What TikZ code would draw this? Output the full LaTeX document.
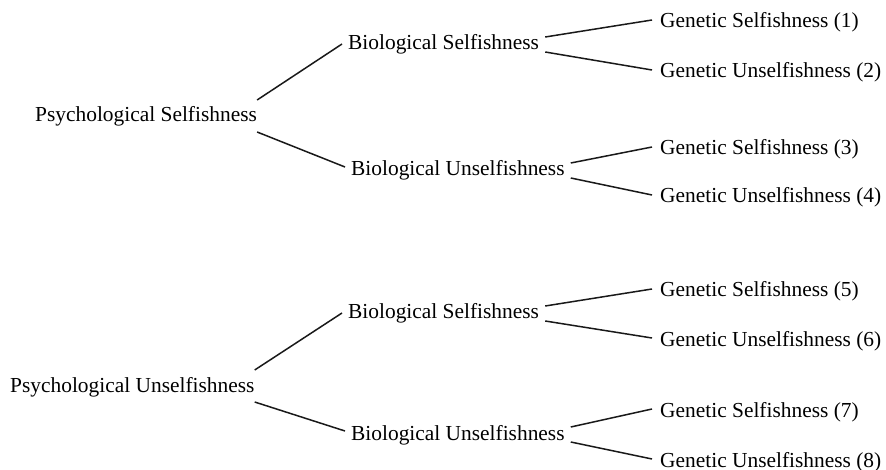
\documentclass[tikz,border=0pt]{standalone}
\usepackage{fontspec}
\setmainfont{Liberation Serif}
\begin{document}
\begin{tikzpicture}[x=1pt,y=-1pt,
  lbl/.style={anchor=base west,inner sep=0pt,font=\fontsize{21.4}{25}\selectfont},
  conn/.style={line width=1.5pt,black!90}]
\useasboundingbox (0,0) rectangle (886,470);
% top tree
\node[lbl] (ps)  at (35,122)  {Psychological Selfishness};
\node[lbl] (bs1) at (348,50)  {Biological Selfishness};
\node[lbl] (bu1) at (351,176) {Biological Unselfishness};
\node[lbl] (g1)  at (660,28)  {Genetic Selfishness (1)};
\node[lbl] (g2)  at (660,78)  {Genetic Unselfishness (2)};
\node[lbl] (g3)  at (660,155) {Genetic Selfishness (3)};
\node[lbl] (g4)  at (660,203) {Genetic Unselfishness (4)};
% bottom tree
\node[lbl] (pu)  at (10,392)  {Psychological Unselfishness};
\node[lbl] (bs2) at (348,319) {Biological Selfishness};
\node[lbl] (bu2) at (351,440) {Biological Unselfishness};
\node[lbl] (g5)  at (660,297) {Genetic Selfishness (5)};
\node[lbl] (g6)  at (660,346) {Genetic Unselfishness (6)};
\node[lbl] (g7)  at (660,417) {Genetic Selfishness (7)};
\node[lbl] (g8)  at (660,467) {Genetic Unselfishness (8)};
% connectors
\foreach \p/\a/\b in {ps/bs1/bu1, pu/bs2/bu2}{
  \draw[conn] ([shift={(0,-22)}]\p.base east) -- ([shift={(-6,-6)}]\a.base west);
  \draw[conn] ([shift={(0,10)}]\p.base east) -- ([shift={(-6,-9)}]\b.base west);
}
\foreach \b/\u/\l in {bs1/g1/g2, bu1/g3/g4, bs2/g5/g6, bu2/g7/g8}{
  \draw[conn] ([shift={(6,-13)}]\b.base east) -- ([shift={(-8,-8)}]\u.base west);
  \draw[conn] ([shift={(6,2)}]\b.base east) -- ([shift={(-8,-8)}]\l.base west);
}
\end{tikzpicture}
\end{document}
